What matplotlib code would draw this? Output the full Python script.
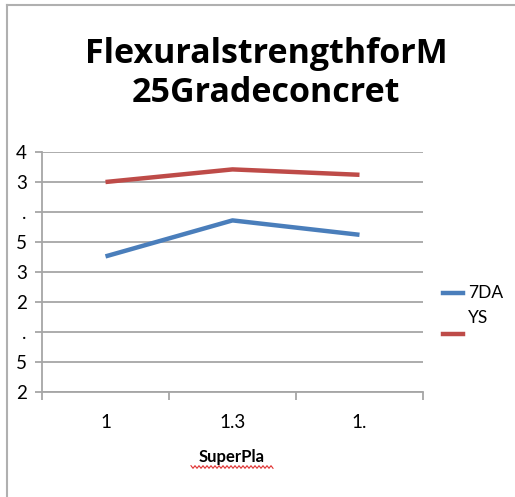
import numpy as np
import matplotlib
matplotlib.use("Agg")
import matplotlib.pyplot as plt
from matplotlib.lines import Line2D

# data
categories = ["1", "1.3", "1."]
days7 = [3.13, 3.43, 3.31]
days28 = [3.75, 3.855, 3.81]
ytick_vals = [2.0, 2.25, 2.5, 2.75, 3.0, 3.25, 3.5, 3.75, 4.0]
ytick_text = ["2", "5", ".", "2", "3", "5", ".", "3", "4"]

blue = "#4A7EBB"
red = "#BE4B48"
grid_c = "#A6A6A6"

plt.rcParams["font.family"] = ["Lato", "DejaVu Sans"]

W, H = 515, 497
fig = plt.figure(figsize=(W / 100, H / 100), dpi=100)

ax = fig.add_axes([42 / W, 1 - 392 / H, 381 / W, 240 / H])
x = np.arange(len(categories))
ax.plot(x, days7, color=blue, lw=3.2, solid_capstyle="butt")
ax.plot(x, days28, color=red, lw=3.2, solid_capstyle="butt")

ax.set_xlim(-0.5, len(categories) - 0.5)
ax.set_ylim(ytick_vals[0], ytick_vals[-1])
ax.set_yticks(ytick_vals)
ax.set_yticklabels(ytick_text, fontsize=13.5)
ax.set_xticks(x)
ax.set_xticklabels(categories, fontsize=13.5)
ax.set_xticks(np.arange(len(categories) + 1) - 0.5, minor=True)
ax.tick_params(axis="x", which="major", length=0, pad=16)
ax.tick_params(axis="x", which="minor", length=6, color=grid_c, width=1.3)
ax.tick_params(axis="y", length=5, color=grid_c, width=1.3, pad=6)

ax.grid(axis="y", color=grid_c, lw=1.3)
ax.set_axisbelow(True)
for s in ["top", "right"]:
    ax.spines[s].set_visible(False)
for s in ["left", "bottom"]:
    ax.spines[s].set_color(grid_c)
    ax.spines[s].set_linewidth(1.3)

# title
title_font = ["Open Sans", "DejaVu Sans"]
fig.text(266 / W, 1 - 54 / H, "FlexuralstrengthforM", fontsize=24.5, fontweight="bold",
         family=title_font, ha="center", va="center")
fig.text(266 / W, 1 - 93 / H, "25Gradeconcret", fontsize=24.5, fontweight="bold",
         family=title_font, ha="center", va="center")

# axis title with spell-check squiggle
fig.text(232 / W, 1 - 457 / H, "SuperPla", fontsize=12, fontweight="bold",
         ha="center", va="center")
sx = np.linspace(191, 273, 42)
sy = 467 + 1.3 * np.where(np.arange(42) % 2 == 0, -1, 1)
fig.add_artist(Line2D(sx / W, 1 - sy / H, color="#E03030", lw=0.8))

# legend
fig.add_artist(Line2D([443 / W, 463 / W], [1 - 293 / H] * 2, color=blue, lw=3.2))
fig.add_artist(Line2D([443 / W, 463 / W], [1 - 334 / H] * 2, color=red, lw=3.2))
fig.text(468 / W, 1 - 293 / H, "7DA", fontsize=12.5, va="center", ha="left")
fig.text(468 / W, 1 - 318 / H, "YS", fontsize=12.5, va="center", ha="left")

# chart border (top and left visible)
fig.add_artist(Line2D([7 / W, 514 / W], [1 - 5 / H] * 2, color="#B0B0B0", lw=1.5))
fig.add_artist(Line2D([7 / W, 7 / W], [1 - 5 / H, 0], color="#B0B0B0", lw=1.5))

fig.savefig("out.png", dpi=100)
